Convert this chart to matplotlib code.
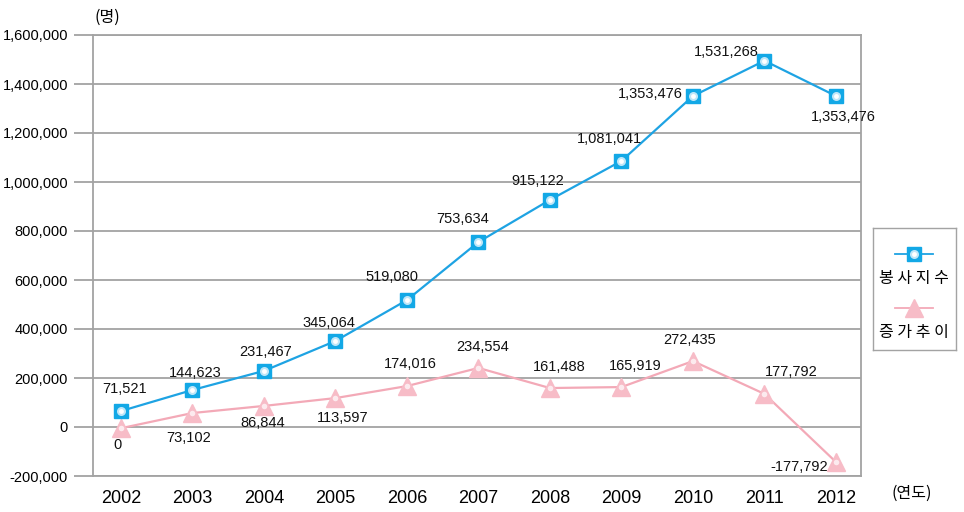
import numpy as np
import matplotlib.pyplot as plt

# donnees
annees = ['2002', '2003', '2004', '2005', '2006', '2007', '2008', '2009', '2010', '2011', '2012']
bongsa = [65000, 151000, 229000, 351000, 518000, 755000, 927000, 1086000, 1351000, 1495000, 1351000]
jeungga = [-5000, 57000, 86000, 118000, 167000, 241000, 159000, 163000, 269000, 135000, -143000]
bongsa_labels = ['71,521', '144,623', '231,467', '345,064', '519,080', '753,634',
                 '915,122', '1,081,041', '1,353,476', '1,531,268', '1,353,476']
jeungga_labels = ['0', '73,102', '86,844', '113,597', '174,016', '234,554',
                  '161,488', '165,919', '272,435', '177,792', '-177,792']
y_ticks = [-200000, 0, 200000, 400000, 600000, 800000, 1000000, 1200000, 1400000, 1600000]
series_names = ['봉사지수', '증가추이']

# decalages des etiquettes (pixels)
off_b = [(4, 22), (3, 17), (2, 19), (-7, 18), (-15, 23), (-16, 23), (-12, 19),
         (-12, 22), (-43, 2), (-38, 9), (7, -21)]
off_j = [(-3, -17), (-4, -25), (-1, -17), (7, -20), (3, 22), (4, 21), (9, 21),
         (14, 21), (-3, 21), (27, 22), (-37, -5)]

arial = ['Liberation Sans', 'DejaVu Sans']
kor = ['Noto Sans CJK KR', 'DejaVu Sans']

blue = '#1ea3e3'
pink = '#f3a9b7'
gris = '#a3a3a3'

fig = plt.figure(figsize=(9.64, 5.12), dpi=100)
ax = fig.add_axes([93/964, 36/512, 768/964, 441/512])

x = np.arange(len(annees))

ax.plot(x, jeungga, color=pink, lw=1.6, zorder=3)
ax.plot(x, jeungga, ls='none', marker='^', ms=12.5, mfc='#f7bcc7', mec='#f7bcc7', zorder=4)
ax.plot(x, jeungga, ls='none', marker='o', ms=4, mfc='white', mec='none', alpha=0.7, zorder=5)

ax.plot(x, bongsa, color=blue, lw=1.6, zorder=3)
ax.plot(x, bongsa, ls='none', marker='s', ms=10, mfc='#12a8e6', mec='#12a8e6', zorder=4)
ax.plot(x, bongsa, ls='none', marker='o', ms=6.5, mfc='#bfe6f8', mec='none', zorder=5)
ax.plot(x, bongsa, ls='none', marker='o', ms=3.5, mfc='white', mec='none', zorder=6)

for i in range(len(annees)):
    ax.annotate(bongsa_labels[i], (x[i], bongsa[i]), xytext=off_b[i], textcoords='offset pixels',
                ha='center', va='center', fontsize=10.5, family=arial, color='#111111', zorder=7)
    ax.annotate(jeungga_labels[i], (x[i], jeungga[i]), xytext=off_j[i], textcoords='offset pixels',
                ha='center', va='center', fontsize=10.5, family=arial, color='#111111', zorder=7)

ax.set_xlim(-0.39, 10.35)
ax.set_ylim(-200000, 1600000)
ax.set_xticks(x)
ax.set_xticklabels(annees, family=arial, fontsize=13)
ax.set_yticks(y_ticks)
ax.set_yticklabels([f'{v:,}' for v in y_ticks], family=arial, fontsize=10.5)
ax.tick_params(axis='x', length=0, pad=10)
ax.tick_params(axis='y', length=14, width=1.3, color=gris, pad=4)
ax.grid(axis='y', color=gris, lw=1.3)
ax.set_axisbelow(True)
for s in ax.spines.values():
    s.set_color(gris)
    s.set_linewidth(1.3)

fig.text(107/964, 1 - 17/512, '(명)', family=kor, fontsize=11.5, ha='center', va='center')
fig.text(912/964, 1 - 493/512, '(연도)', family=kor, fontsize=11.5, ha='center', va='center')

# legende dessinee a la main
lg = fig.add_axes([873/964, 1 - 350/512, 83/964, 122/512])
lg.set_xlim(0, 83)
lg.set_ylim(122, 0)
lg.set_xticks([])
lg.set_yticks([])
for s in lg.spines.values():
    s.set_color(gris)
    s.set_linewidth(1)
lg.plot([22, 60], [26, 26], color=blue, lw=1.3)
lg.plot([41], [26], marker='s', ms=10, mfc='#12a8e6', mec='#12a8e6')
lg.plot([41], [26], marker='o', ms=6.5, mfc='#bfe6f8', mec='none')
lg.plot([41], [26], marker='o', ms=3.5, mfc='white', mec='none')
lg.text(41, 50, '봉 사 지 수', family=kor, fontsize=11.5, ha='center', va='center')
lg.plot([22, 60], [80, 80], color=pink, lw=1.3)
lg.plot([41], [80], marker='^', ms=12.5, mfc='#f7bcc7', mec='#f7bcc7')
lg.text(41, 104, '증 가 추 이', family=kor, fontsize=11.5, ha='center', va='center')

fig.savefig('out.png', dpi=100)
